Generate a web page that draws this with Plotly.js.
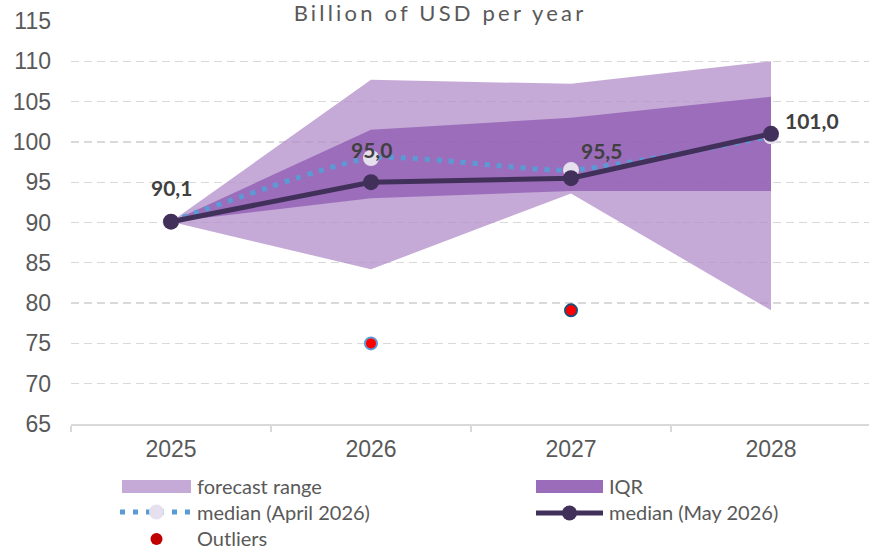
<!DOCTYPE html>
<html>
<head>
<meta charset="utf-8">
<script src="https://cdn.plot.ly/plotly-3.0.1.min.js"></script>
<style>
html,body{margin:0;padding:0;background:#fff;}
#chart{width:869px;height:551px;}
#chart .gtitle{letter-spacing:3.2px;}
</style>
</head>
<body>
<div id="chart"></div>
<script>
// ---- data ----
const years = ['2025', '2026', '2027', '2028'];
const rangeLow = [90.1, 84.2, 93.6, 79.1];
const rangeHigh = [90.1, 107.7, 107.2, 110.0];
const iqrLow = [90.1, 93.0, 93.9, 93.9];
const iqrHigh = [90.1, 101.5, 103.0, 105.6];
const medianApril = [90.1, 98.0, 96.5, 100.7];
const medianMay = [90.1, 95.0, 95.5, 101.0];
const outlierYears = ['2026', '2027'];
const outlierValues = [75.0, 79.1];
const yTickValues = [65, 70, 75, 80, 85, 90, 95, 100, 105, 110, 115];
const legendLabels = ['forecast range', 'IQR', 'median (April 2026)', 'median (May 2026)', 'Outliers'];
const titleText = 'Billion of USD per year';

// ---- styles ----
const C_RANGE = 'rgba(178,140,202,0.75)';
const C_RANGE_SOLID = '#c5a9d7';
const C_IQR = 'rgba(141,89,176,0.75)';
const C_IQR_SOLID = '#9b6cba';
const C_MAY = '#41315a';
const C_APRIL = '#5b9bd5';
const C_APRIL_MK = '#e6e0ee';
const C_TEXT = '#595959';
const C_LABEL = '#404040';
const outlierBorders = ['#5b9bd5', '#1f4e79'];

const W = 869, H = 551, L = 71, R = 869, T = 21, B = 424;
const px = x => (x - L) / (R - L);
const py = y => (B - y) / (B - T);
const fmt = v => v.toFixed(1).replace('.', ',');

const traces = [
  {x: years, y: rangeLow, type: 'scatter', mode: 'lines', line: {width: 0, color: C_RANGE}, hoverinfo: 'skip', showlegend: false, name: 'range low'},
  {x: years, y: rangeHigh, type: 'scatter', mode: 'lines', fill: 'tonexty', fillcolor: C_RANGE, line: {width: 0, color: C_RANGE}, showlegend: false, name: legendLabels[0]},
  {x: years, y: iqrLow, type: 'scatter', mode: 'lines', line: {width: 0, color: C_IQR}, hoverinfo: 'skip', showlegend: false, name: 'IQR low'},
  {x: years, y: iqrHigh, type: 'scatter', mode: 'lines', fill: 'tonexty', fillcolor: C_IQR, line: {width: 0, color: C_IQR}, showlegend: false, name: legendLabels[1]},
  {x: years, y: medianApril, type: 'scatter', mode: 'lines+markers', line: {color: C_APRIL, width: 5, dash: '5px,7px', shape: 'spline', smoothing: 0.55},
   marker: {color: C_APRIL_MK, size: 16}, showlegend: false, name: legendLabels[2]},
  {x: years, y: medianMay, type: 'scatter', mode: 'lines+markers', line: {color: C_MAY, width: 5},
   marker: {color: C_MAY, size: 16}, showlegend: false, name: legendLabels[3]},
  {x: outlierYears, y: outlierValues, type: 'scatter', mode: 'markers',
   marker: {color: '#ff0000', size: 12, line: {color: outlierBorders, width: 2}}, showlegend: false, name: legendLabels[4]}
];

// data labels for the May median (x given as category index)
const labelShifts = [[0, 34], [0, 33], [30, 28], [41, 13]];
const annotations = medianMay.map((v, i) => ({
  x: i, y: v, xref: 'x', yref: 'y', text: fmt(v), showarrow: false,
  xshift: labelShifts[i][0], yshift: labelShifts[i][1], xanchor: 'center', yanchor: 'middle',
  font: {family: 'Lato', size: 21, color: C_LABEL, weight: 'bold'}
}));

// legend (drawn in paper coordinates)
const legFont = {family: 'Lato', size: 20, color: C_TEXT};
const legRows = [
  {label: legendLabels[0], tx: 196, ty: 486},
  {label: legendLabels[1], tx: 608, ty: 486},
  {label: legendLabels[2], tx: 196, ty: 512},
  {label: legendLabels[3], tx: 608, ty: 512},
  {label: legendLabels[4], tx: 196, ty: 537.5}
];
legRows.forEach(r => annotations.push({
  xref: 'paper', yref: 'paper', x: px(r.tx), y: py(r.ty), text: r.label, showarrow: false,
  xanchor: 'left', yanchor: 'middle', font: legFont, borderpad: 0
}));

const shapes = [
  {type: 'rect', xref: 'paper', yref: 'paper', x0: px(122), x1: px(191), y0: py(480), y1: py(493), fillcolor: C_RANGE_SOLID, line: {width: 0}},
  {type: 'rect', xref: 'paper', yref: 'paper', x0: px(536), x1: px(603), y0: py(480), y1: py(493), fillcolor: C_IQR_SOLID, line: {width: 0}},
  {type: 'line', xref: 'paper', yref: 'paper', x0: px(120), x1: px(191), y0: py(512), y1: py(512), line: {color: C_APRIL, width: 5, dash: '5px,8px'}},
  {type: 'circle', xref: 'paper', yref: 'paper', x0: px(149), x1: px(164), y0: py(504.5), y1: py(519.5), fillcolor: C_APRIL_MK, line: {width: 0}},
  {type: 'line', xref: 'paper', yref: 'paper', x0: px(536), x1: px(603), y0: py(513), y1: py(513), line: {color: C_MAY, width: 5}},
  {type: 'circle', xref: 'paper', yref: 'paper', x0: px(562), x1: px(577), y0: py(505.5), y1: py(520.5), fillcolor: C_MAY, line: {width: 0}},
  {type: 'circle', xref: 'paper', yref: 'paper', x0: px(150.5), x1: px(162.5), y0: py(533), y1: py(545), fillcolor: '#c00000', line: {width: 0}}
];

const layout = {
  width: W, height: H,
  margin: {l: L, r: W - R, t: T, b: H - B, pad: 0},
  paper_bgcolor: '#ffffff', plot_bgcolor: '#ffffff',
  showlegend: false,
  title: {text: titleText, x: 440 / W, xanchor: 'center', xref: 'container', yref: 'container', y: 1 - 13.5 / H, yanchor: 'middle',
          font: {family: 'Lato', size: 22, color: C_TEXT}},
  xaxis: {
    type: 'category', categoryorder: 'array', categoryarray: years, range: [-0.5, 3.49],
    showgrid: false, zeroline: false, showline: true, linecolor: '#d9d9d9', linewidth: 1.5,
    ticks: 'outside', tickson: 'boundaries', ticklen: 6, tickcolor: '#d9d9d9', tickwidth: 1.5,
    tickfont: {family: 'Liberation Sans, Arial, sans-serif', size: 23, color: C_TEXT},
    ticklabelstandoff: 4, fixedrange: true
  },
  yaxis: {
    range: [65, 115], tickvals: yTickValues, ticktext: yTickValues.map(String),
    showgrid: true, gridcolor: '#d9d9d9', gridwidth: 1.3, griddash: '8px,5px',
    zeroline: false, showline: false, ticks: '',
    tickfont: {family: 'Liberation Sans, Arial, sans-serif', size: 23, color: C_TEXT},
    ticklabelstandoff: 19, fixedrange: true
  },
  annotations: annotations,
  shapes: shapes,
  hovermode: false
};

Plotly.newPlot('chart', traces, layout, {displayModeBar: false, staticPlot: true});
</script>
</body>
</html>
